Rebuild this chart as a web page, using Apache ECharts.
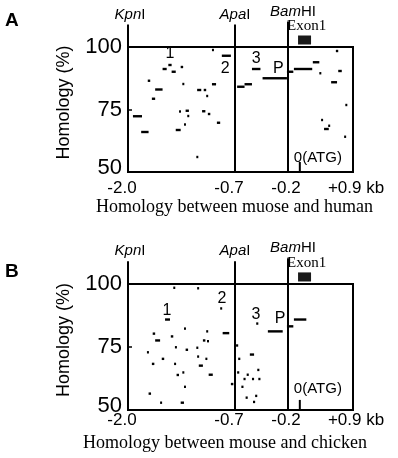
<!DOCTYPE html>
<html>
<head>
<meta charset="utf-8">
<script src="https://cdn.jsdelivr.net/npm/echarts@6.0.0/dist/echarts.min.js"></script>
<style>
  html, body { margin: 0; padding: 0; background: #fff; }
  #main { width: 398px; height: 458px; }
</style>
</head>
<body>
<div id="main"></div>
<script type="text/javascript">
// x axis is broken into three stretches (kb)
var BREAKS = [-2.0, -0.7, -0.2, 0.9];
var BREAK_LABELS = ['-2.0', '-0.7', '-0.2', '+0.9 kb'];
var SITE_KB = [-2.0, -0.7, -0.2];
var SITE_NAMES = [['Kpn', 'I'], ['Apa', 'I'], ['Bam', 'HI']];
var EXON1 = [-0.03, 0.19];
var ATG_KB = 0;
var PEAK_NAMES = ['1', '2', '3', 'P'];

// A: mouse / human  [start kb, end kb, homology %]
var humanMarks = [
  [-1.94, -1.83, 72.3], [-1.84, -1.75, 66], [-1.76, -1.73, 86.5], [-1.71, -1.67, 79.3],
  [-1.67, -1.58, 83], [-1.58, -1.53, 91.2], [-1.51, -1.47, 92.8], [-1.47, -1.42, 90.1],
  [-1.36, -1.33, 92], [-1.34, -1.32, 85.2], [-1.42, -1.36, 66.8], [-1.32, -1.30, 69],
  [-1.38, -1.36, 74.2], [-1.30, -1.26, 74.5], [-1.28, -1.26, 72.4], [-1.17, -1.15, 56],
  [-1.16, -1.11, 82.8], [-1.08, -1.05, 82.8], [-1.05, -1.03, 80.4], [-1.10, -1.06, 74.3],
  [-1.03, -1.00, 73.2], [-0.98, -0.93, 85.1], [-0.92, -0.88, 69.7], [-0.98, -0.96, 98.8],
  [-0.86, -0.75, 96.5], [-0.68, -0.61, 84.1], [-0.61, -0.54, 85.1], [-0.54, -0.46, 91.2],
  [-0.44, -0.21, 87.5], [-0.21, -0.11, 90.1], [-0.10, 0.21, 91.2], [0.22, 0.33, 93.9],
  [0.33, 0.36, 89.5], [0.53, 0.63, 85.9], [0.65, 0.71, 90.4], [0.61, 0.65, 98.4],
  [0.77, 0.80, 76.8], [0.36, 0.39, 70.8], [0.41, 0.49, 67.2], [0.48, 0.51, 68.5],
  [0.75, 0.78, 64.1]
];
var humanPeaks = [[-1.49, 97.2], [-0.82, 91.2], [-0.50, 95.2], [-0.29, 91.2]];

// B: mouse / chicken
var chickenMarks = [
  [-1.45, -1.43, 98.5], [-1.16, -1.14, 98.3], [-1.55, -1.49, 85.9], [-0.88, -0.86, 90.3],
  [-0.85, -0.77, 80.5], [-1.70, -1.67, 80.3], [-1.67, -1.61, 77.6], [-1.48, -1.45, 79.2],
  [-1.32, -1.30, 82.3], [-1.05, -1.03, 81.2], [-1.09, -1.06, 77.6], [-1.04, -1.02, 77.3],
  [-1.43, -1.41, 74.9], [-1.30, -1.27, 73.9], [-1.17, -1.15, 74.7], [-1.77, -1.75, 72.9],
  [-1.59, -1.56, 70.3], [-1.16, -1.14, 71.2], [-1.06, -1.04, 70.3], [-1.71, -1.68, 68.3],
  [-1.44, -1.42, 68.3], [-1.14, -1.09, 67.6], [-1.41, -1.38, 63.9], [-1.34, -1.32, 64.9],
  [-1.02, -0.97, 64], [-1.32, -1.30, 59.2], [-1.75, -1.72, 56.5], [-1.61, -1.59, 52.9],
  [-1.36, -1.32, 52.9], [-0.75, -0.72, 60.3], [-0.69, -0.67, 75.6], [-0.50, -0.48, 84.3],
  [-0.39, -0.25, 81.2], [-0.21, -0.11, 83.2], [-0.10, 0.11, 85.9], [-0.56, -0.52, 72],
  [-0.67, -0.65, 70.3], [-0.68, -0.66, 64.9], [-0.62, -0.60, 62.3], [-0.59, -0.57, 64],
  [-0.64, -0.62, 59.2], [-0.49, -0.47, 65.9], [-0.54, -0.52, 62.3], [-0.48, -0.46, 62.3],
  [-0.60, -0.58, 54.9], [-0.51, -0.49, 55.6], [-0.53, -0.51, 53.2]
];
var chickenPeaks = [[-1.526, 89.6], [-0.858, 94.4], [-0.502, 88], [-0.275, 86.4]];

var SANS = '"Liberation Sans", Arial, sans-serif';
var SERIF = '"Liberation Serif", "Times New Roman", serif';
var SEG_W = [107, 53, 65];   // drawn width of each stretch

function pos(kb) {
    var acc = 0;
    for (var i = 0; i < 3; i++) {
        var a = BREAKS[i], b = BREAKS[i + 1];
        if (kb <= b || i == 2) return acc + (kb - a) / (b - a) * SEG_W[i];
        acc += SEG_W[i];
    }
}

function makeX(idx, margin, title, shift) {
    return {
        gridIndex: idx, type: 'value', min: 0, max: 225,
        axisLine: {show: false}, axisTick: {show: false}, splitLine: {show: false},
        axisLabel: {
            customValues: BREAKS.map(pos),
            margin: margin,
            formatter: function (v) {
                for (var i = 0; i < BREAKS.length; i++) {
                    if (Math.abs(pos(BREAKS[i]) - v) < 0.5) return '{k' + i + '|' + BREAK_LABELS[i] + '}';
                }
                return '';
            },
            rich: {
                k0: {fontSize: 17, fontFamily: SANS, color: '#000', padding: [0, 12, 0, 0]},
                k1: {fontSize: 17, fontFamily: SANS, color: '#000', padding: [0, 12, 0, 0]},
                k2: {fontSize: 17, fontFamily: SANS, color: '#000', padding: [0, 4, 0, 0]},
                k3: {fontSize: 17, fontFamily: SANS, color: '#000', padding: [0, 0, 0, 6]}
            }
        },
        name: title, nameLocation: 'middle', nameGap: 24,
        nameTextStyle: {fontFamily: SERIF, fontSize: 18, color: '#000', padding: [0, shift, 0, 0]}
    };
}

function makeY(idx) {
    return {
        gridIndex: idx, type: 'value', min: 50, max: 100, interval: 25,
        axisLine: {show: false}, splitLine: {show: false},
        axisTick: {show: true, inside: true, length: 4, lineStyle: {color: '#000', width: 1.5}},
        axisLabel: {
            margin: 6, fontSize: 22, fontFamily: SANS, color: '#000',
            formatter: function (v) { return v == 50 ? '{lo|50}' : '' + v; },
            rich: {lo: {fontSize: 22, fontFamily: SANS, color: '#000', padding: [0, 0, 8, 0]}}
        },
        name: 'Homology (%)', nameLocation: 'middle', nameRotate: 90, nameGap: 55,
        nameTextStyle: {fontSize: 18, fontFamily: SANS, color: '#000', padding: [0, 0, 0, 14]}
    };
}

function markSeries(idx, data) {
    return {
        type: 'custom', xAxisIndex: idx, yAxisIndex: idx, data: data,
        encode: {x: [0, 1], y: 2}, silent: true,
        renderItem: function (params, api) {
            var p1 = api.coord([pos(api.value(0)), api.value(2)]);
            var p2 = api.coord([pos(api.value(1)), api.value(2)]);
            return {type: 'rect', shape: {x: p1[0], y: p1[1] - 1.2, width: Math.max(p2[0] - p1[0], 2), height: 2.4},
                style: {fill: '#000'}};
        }
    };
}

function siteSeries(idx) {
    var dx = [2, 0, 5];
    return {
        type: 'custom', xAxisIndex: idx, yAxisIndex: idx, silent: true, clip: false,
        data: SITE_KB.map(function (k, i) { return [k, i]; }),
        renderItem: function (params, api) {
            var i = params.dataIndex;
            var x = pos(SITE_KB[i]);
            var top = i == 2 ? 110.2 : 109;
            var p0 = api.coord([x, 50]);
            var p1 = api.coord([x, top]);
            return {type: 'group', children: [
                {type: 'line', shape: {x1: p0[0], y1: p0[1] + 1, x2: p1[0], y2: p1[1]},
                    style: {stroke: '#000', lineWidth: 2}},
                {type: 'text', style: {
                    x: p1[0] + dx[i], y: p1[1] - 10, align: 'center', verticalAlign: 'middle',
                    text: '{i|' + SITE_NAMES[i][0] + '}{n|' + SITE_NAMES[i][1] + '}',
                    rich: {
                        i: {fontSize: 15, fontFamily: SANS, fontStyle: 'italic', fill: '#000'},
                        n: {fontSize: 15, fontFamily: SANS, fill: '#000'}
                    }
                }}
            ]};
        }
    };
}

function extraSeries(idx, peaks, atgY) {
    return {
        type: 'custom', xAxisIndex: idx, yAxisIndex: idx, silent: true, clip: false,
        data: [[0, 0]],
        renderItem: function (params, api) {
            var kids = [];
            // exon 1 box
            var e1 = api.coord([pos(EXON1[0]), 104.6]);
            var e2 = api.coord([pos(EXON1[1]), 101]);
            kids.push({type: 'rect', shape: {x: e1[0], y: e1[1], width: e2[0] - e1[0], height: e2[1] - e1[1]},
                style: {fill: '#1a1a1a'}});
            kids.push({type: 'text', style: {x: (e1[0] + e2[0]) / 2 + 2, y: e1[1] - 9, text: 'Exon1',
                align: 'center', verticalAlign: 'middle', font: '15px ' + SERIF, fill: '#000'}});
            // ATG
            var a0 = api.coord([pos(ATG_KB), 50]);
            var a1 = api.coord([pos(ATG_KB), 54]);
            kids.push({type: 'line', shape: {x1: a0[0], y1: a0[1], x2: a1[0], y2: a1[1]},
                style: {stroke: '#000', lineWidth: 2}});
            var at = api.coord([pos(ATG_KB), atgY]);
            kids.push({type: 'text', style: {x: at[0] - 6, y: at[1], text: '0(ATG)',
                align: 'left', verticalAlign: 'middle', font: '15px ' + SANS, fill: '#000'}});
            // numbered regions
            for (var i = 0; i < peaks.length; i++) {
                var p = api.coord([pos(peaks[i][0]), peaks[i][1]]);
                kids.push({type: 'text', style: {x: p[0], y: p[1], text: PEAK_NAMES[i],
                    align: 'center', verticalAlign: 'middle', font: '16px ' + SANS, fill: '#000'}});
            }
            return {type: 'group', children: kids};
        }
    };
}

var chart = echarts.init(document.getElementById('main'));
var option = {
    animation: false,
    backgroundColor: '#fff',
    grid: [
        {left: 128, top: 47, width: 225, height: 125, show: true, borderColor: '#000', borderWidth: 2},
        {left: 128, top: 284, width: 225, height: 126, show: true, borderColor: '#000', borderWidth: 2}
    ],
    xAxis: [
        makeX(0, 8, 'Homology between muose and human', 12),
        makeX(1, 2, 'Homology between mouse and chicken', 31)
    ],
    yAxis: [makeY(0), makeY(1)],
    graphic: [
        {type: 'text', left: 5, top: 11, style: {text: 'A', font: 'bold 19px ' + SANS, fill: '#000'}},
        {type: 'text', left: 5, top: 262, style: {text: 'B', font: 'bold 19px ' + SANS, fill: '#000'}}
    ],
    series: [
        markSeries(0, humanMarks),
        markSeries(1, chickenMarks),
        siteSeries(0),
        siteSeries(1),
        extraSeries(0, humanPeaks, 55.6),
        extraSeries(1, chickenPeaks, 58.3)
    ]
};
chart.setOption(option);
</script>
</body>
</html>
